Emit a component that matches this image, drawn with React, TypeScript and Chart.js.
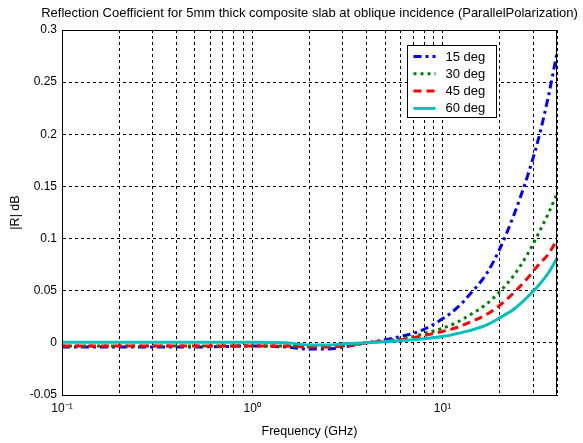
import React, { useEffect, useRef } from 'react';
import { Chart, registerables } from 'chart.js';

Chart.register(...registerables);

const titleText =
  'Reflection Coefficient for 5mm thick composite slab at oblique incidence (ParallelPolarization)';
const xTitle = 'Frequency (GHz)';
const yTitle = '|R| dB';

const freqGHz = [0.1, 0.2, 0.3, 0.5, 0.7, 1, 1.5, 2, 2.5, 3, 4, 5, 6, 7, 8, 10, 12, 14, 17, 20, 24, 28, 32, 36, 40];
const deg15 = [-0.004, -0.004, -0.004, -0.004, -0.0035, -0.003, -0.004, -0.006, -0.006, -0.004, 0.0, 0.003, 0.006, 0.009, 0.013, 0.023, 0.034, 0.047, 0.066, 0.09, 0.125, 0.16, 0.196, 0.236, 0.278];
const deg30 = [-0.003, -0.003, -0.003, -0.003, -0.003, -0.003, -0.003, -0.004, -0.004, -0.003, 0.0, 0.002, 0.004, 0.006, 0.009, 0.014, 0.02, 0.027, 0.037, 0.049, 0.066, 0.085, 0.105, 0.124, 0.143];
const deg45 = [-0.003, -0.003, -0.003, -0.003, -0.003, -0.003, -0.003, -0.004, -0.004, -0.003, 0.0, 0.002, 0.003, 0.005, 0.007, 0.011, 0.015, 0.02, 0.027, 0.036, 0.049, 0.062, 0.075, 0.085, 0.099];
const deg60 = [0.0005, 0.0005, 0.0005, 0.0005, 0.0005, 0.0005, 0.0, -0.002, -0.002, -0.001, 0.0, 0.001, 0.002, 0.003, 0.004, 0.006, 0.009, 0.012, 0.017, 0.024, 0.033, 0.044, 0.055, 0.067, 0.081];

const seriesLabels = ['15 deg', '30 deg', '45 deg', '60 deg'];
const xTickValues = [0.1, 0.2, 0.3, 0.4, 0.5, 0.6, 0.7, 0.8, 0.9, 1, 2, 3, 4, 5, 6, 7, 8, 9, 10, 20, 30, 40];
const xTickLabels: Record<string, string> = { '0.1': '10⁻¹', '1': '10⁰', '10': '10¹' };
const yTickValues = [-0.05, 0, 0.05, 0.1, 0.15, 0.2, 0.25, 0.3];

const FONT = '"Liberation Sans", Arial, Helvetica, sans-serif';

const framePlugin = {
  id: 'frame',
  afterDraw(chart: any) {
    const { ctx, chartArea } = chart;
    const { left, top, right, bottom } = chartArea;
    ctx.save();
    ctx.setLineDash([]);
    ctx.strokeStyle = '#000';
    ctx.lineWidth = 1;
    ctx.strokeRect(Math.round(left) + 0.5, Math.round(top) + 0.5, Math.round(right - left) - 1, Math.round(bottom - top));

    ctx.fillStyle = '#000';
    ctx.font = `13px ${FONT}`;
    ctx.textAlign = 'center';
    ctx.textBaseline = 'middle';
    ctx.fillText(titleText, (left + right) / 2, 13);

    // legend
    const bx = Math.round(right) - 149.5;
    const by = Math.round(top) + 15.5;
    const bw = 89;
    const bh = 72;
    ctx.fillStyle = '#fff';
    ctx.fillRect(bx, by, bw, bh);
    ctx.strokeStyle = '#000';
    ctx.lineWidth = 1;
    ctx.strokeRect(bx, by, bw, bh);
    chart.data.datasets.forEach((ds: any, i: number) => {
      const y = by + 11 + i * 17.3;
      ctx.save();
      ctx.strokeStyle = ds.borderColor;
      ctx.lineWidth = ds.borderWidth;
      ctx.setLineDash(ds.borderDash || []);
      ctx.beginPath();
      ctx.moveTo(bx + 6, y);
      ctx.lineTo(bx + 28, y);
      ctx.stroke();
      ctx.restore();
      ctx.fillStyle = '#000';
      ctx.font = `13px ${FONT}`;
      ctx.textAlign = 'left';
      ctx.textBaseline = 'middle';
      ctx.fillText(ds.label, bx + 38, y + 0.5);
    });
    ctx.restore();
  },
};

export default function App() {
  const ref = useRef<HTMLCanvasElement | null>(null);

  useEffect(() => {
    if (!ref.current) return;
    const mk = (vals: number[]) => freqGHz.map((f, i) => ({ x: f, y: vals[i] }));
    const common = { pointRadius: 0, fill: false, cubicInterpolationMode: 'monotone' as const, borderWidth: 3 };
    const chart = new Chart(ref.current, {
      type: 'line',
      data: {
        datasets: [
          { ...common, label: seriesLabels[0], data: mk(deg15), borderColor: '#0000ff', borderDash: [8, 4, 3, 4], order: 4 },
          { ...common, label: seriesLabels[1], data: mk(deg30), borderColor: '#008000', borderDash: [3, 4], order: 3 },
          { ...common, label: seriesLabels[2], data: mk(deg45), borderColor: '#ff0000', borderDash: [8, 5], order: 2 },
          { ...common, label: seriesLabels[3], data: mk(deg60), borderColor: '#00bfbf', order: 1 },
        ],
      },
      options: {
        animation: false,
        responsive: false,
        maintainAspectRatio: false,
        layout: { padding: { top: 30, right: 26, bottom: 0, left: 0 } },
        plugins: { legend: { display: false }, tooltip: { enabled: false }, title: { display: false } },
        scales: {
          x: {
            type: 'logarithmic',
            min: 0.1,
            max: 40,
            afterBuildTicks: (s: any) => {
              s.ticks = xTickValues.map((v) => ({ value: v }));
            },
            afterFit: (s: any) => {
              s.height = 48;
            },
            ticks: {
              autoSkip: false,
              maxRotation: 0,
              padding: 6,
              color: '#000',
              font: { family: FONT, size: 12 },
              callback: (v: any) => xTickLabels[String(Number(Number(v).toPrecision(3)))] || '',
            },
            grid: { color: '#000', lineWidth: 1, drawTicks: false },
            border: { display: true, color: '#000', dash: [3, 3] },
            title: {
              display: true,
              text: xTitle,
              color: '#000',
              font: { family: FONT, size: 12.5 },
              padding: { top: 0, bottom: 4 },
            },
          },
          y: {
            type: 'linear',
            min: -0.05,
            max: 0.3,
            afterBuildTicks: (s: any) => {
              s.ticks = yTickValues.map((v) => ({ value: v }));
            },
            afterFit: (s: any) => {
              s.width = 62;
            },
            ticks: {
              autoSkip: false,
              padding: 5,
              color: '#000',
              font: { family: FONT, size: 12 },
              callback: (v: any) => String(Number(Number(v).toFixed(2))),
            },
            grid: { color: '#000', lineWidth: 1, drawTicks: false },
            border: { display: true, color: '#000', dash: [3, 3] },
            title: {
              display: true,
              text: yTitle,
              color: '#000',
              font: { family: FONT, size: 12.5 },
              padding: { top: 8, bottom: 0 },
            },
          },
        },
      },
      plugins: [framePlugin],
    });
    return () => chart.destroy();
  }, []);

  return (
    <div style={{ position: 'fixed', left: 0, top: 0, width: 583, height: 443, background: '#fff' }}>
      <canvas ref={ref} width={583} height={443} style={{ width: 583, height: 443, display: 'block' }} />
    </div>
  );
}
